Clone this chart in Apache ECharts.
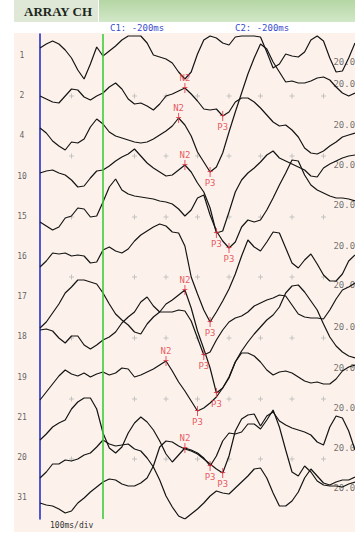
<!DOCTYPE html>
<html>
<head>
<meta charset="utf-8">
<title>ARRAY CH</title>
<script src="https://cdn.jsdelivr.net/npm/echarts@6/dist/echarts.min.js"></script>
<style>
  html, body { margin: 0; padding: 0; background: #fff; }
  #chart { width: 355px; height: 536px; }
</style>
</head>
<body>
<div id="chart"></div>
<script>
// sample times (ms), one reading every 20 ms
const times = [-200,-180,-160,-140,-120,-100,-80,-60,-40,-20,0,20,40,60,80,100,120,140,160,180,
  200,220,240,260,280,300,320,340,360,380,400,420,440,460,480,500,520,540,560,580,
  600,620,640,660,680,700,720,740,760,780,800]

const channels = ['1','2','4','10','15','16','17','18','19','21','20','31']
// vertical offset of each channel trace
const baselines = [0,-40,-80,-121,-161,-201,-241,-281,-322,-362,-402,-442]

// deflection of each channel (up = positive)
const ch1 = [7,11,14,11,5,-3,-15,-24,-9,8,-1,4,9,15,19,19,19,12,0,-2,-4,-8,-17,-24,-17,1,15,19,17,12,10,18,19,19,19,18,3,-13,-9,1,-1,-2,3,15,19,14,-3,-17,-16,-3,12]
const ch2 = [-1,-4,-7,-8,-1,6,5,-2,-5,-1,2,8,12,6,-4,-9,-8,-11,-15,-9,-1,1,4,7,1,-6,-14,-15,-14,-21,-17,-7,-3,-3,-7,-13,-20,-27,-31,-30,-35,-42,-53,-58,-59,-56,-51,-47,-42,-40,-38]
const ch4 = [7,2,-6,-11,-15,-7,-8,-4,8,16,11,3,-1,-3,-5,-7,-8,-7,-4,0,4,9,17,10,-1,-17,-27,-37,-32,-18,3,23,42,61,77,91,86,73,63,53,54,52,52,54,57,58,55,48,42,39,42]
const ch10 = [3,5,6,3,1,-4,-11,-10,-2,5,6,10,15,19,22,27,20,13,8,4,0,1,6,11,4,-7,-16,-32,-57,-55,-36,-16,-4,3,8,14,21,25,18,15,12,9,6,0,-1,8,12,15,18,20,21]
const ch15 = [-6,-10,-14,-11,-2,0,8,7,-1,0,14,29,37,26,22,20,19,18,17,15,14,12,7,0,6,18,21,1,-15,-25,-32,-26,-11,-4,-6,-4,6,18,31,43,56,55,41,31,26,23,20,18,18,17,15]
const ch16 = [-11,-5,3,2,3,0,1,0,-7,-6,6,9,5,3,7,15,21,25,29,32,30,24,23,10,-21,-38,-54,-66,-56,-45,-33,-18,0,16,9,5,14,24,23,8,-7,-12,-4,2,-8,-19,-25,-25,-18,-5,1]
const ch17 = [-32,-26,-17,-8,3,9,16,16,14,12,3,-8,-18,-24,-29,-36,-38,-28,-21,-16,-16,-16,-14,-15,-25,-42,-59,-56,-44,-34,-26,-22,-20,-16,-10,-7,-4,-2,1,0,-9,-18,-21,-22,-22,-23,-14,-3,6,9,13]
const ch18 = [6,7,5,-2,-7,0,0,-9,-13,-9,-4,-1,4,13,19,24,34,39,30,24,32,36,41,46,28,5,-13,-32,-57,-52,-41,-26,-15,-6,2,9,16,21,29,43,50,51,44,35,26,12,-1,-10,-16,-20,-22]
const ch19 = [-23,-15,-7,1,7,3,1,4,0,3,5,2,4,9,8,0,2,5,8,12,16,6,-5,-14,-24,-34,-31,-26,-20,-11,-1,15,24,24,21,15,7,2,5,6,4,0,-4,-6,-5,-7,-7,-2,6,10,12]
const ch21 = [-23,-17,-10,-6,-3,8,15,19,19,8,-16,-31,-36,-30,-16,-6,0,-5,-13,-24,-37,-45,-38,-31,-33,-36,-41,-49,-39,-24,-16,-17,-15,-7,-7,-12,-3,7,-10,-33,-55,-59,-49,-55,-64,-68,-69,-69,-70,-67,-65]
const ch20 = [-21,-15,-7,-7,-3,-4,-2,2,4,10,17,13,11,12,13,8,6,-1,-10,-23,-39,-50,-59,-62,-57,-52,-46,-39,-34,-36,-37,-31,-25,-19,-12,-11,-21,-36,-49,-49,-44,-35,-21,-12,-19,-26,-28,-25,-23,-23,-20]
const ch31 = [-6,-8,-9,-12,-16,-14,-6,-1,5,10,15,18,17,13,11,11,14,19,31,50,56,55,51,48,46,43,38,33,28,24,41,66,78,82,83,71,81,85,76,72,69,67,65,62,55,52,70,81,79,66,47]

const traces = [ch1, ch2, ch4, ch10, ch15, ch16, ch17, ch18, ch19, ch21, ch20, ch31]

// N2 / P3 peak marks
const markChannel = ['2','2','4','4','10','10','15','16','17','18','18','19','19','21','21','31']
const markName    = ['N2','P3','N2','P3','N2','P3','P3','P3','P3','N2','P3','N2','P3','N2','P3','P3']
const markTime    = [260,380,240,340,260,360,400,340,320,260,360,200,300,260,340,380]

// sensitivity labels at the right side
const sensText   = ['20.0','20.0','20.0','20.0','20.0','20.0','20.0','20.0','20.0','20.0','20.0','20.0']
const sensLevels = [-7,-29,-70,-110,-150,-191,-230,-272,-313,-353,-393,-433]

// faint grid crosses
const gridTimes  = [-100,100,200,300,400,500,600,700]
const gridLevels = [-41,-101,-162,-222,-283,-344,-404]

let chartDom = document.getElementById('chart')
let mychart = echarts.init(chartDom, null, { renderer: 'svg' })

let monoFont = 'DejaVu Sans Mono'

let lineSeries = traces.map((amp, i) => ({
  type: 'line',
  name: 'ch' + channels[i],
  data: times.map((t, k) => [t, baselines[i] + amp[k]]),
  symbol: 'none',
  smooth: false,
  silent: true,
  z: 4,
  lineStyle: { color: '#141414', width: 1.2 }
}))

// green cursor at 0 ms
lineSeries[0].markLine = {
  symbol: 'none',
  silent: true,
  label: { show: false },
  lineStyle: { color: '#3ccc3c', width: 1.6, type: 'solid' },
  data: [{ xAxis: 0 }]
}

let markData = markChannel.map((c, j) => {
  let i = channels.indexOf(c)
  let k = times.indexOf(markTime[j])
  return {
    value: [markTime[j], baselines[i] + traces[i][k]],
    label: {
      formatter: markName[j],
      position: markName[j] === 'N2' ? 'top' : 'bottom',
      distance: 1
    }
  }
})

let gridData = []
gridLevels.forEach(v => {
  gridTimes.forEach(t => gridData.push([t, v]))
})

let option = {
  animation: false,
  backgroundColor: '#ffffff',
  grid: { left: 40, right: 0, top: 34, bottom: 17 },
  xAxis: {
    type: 'value',
    min: -200,
    max: 800,
    show: false
  },
  yAxis: {
    type: 'value',
    min: -464,
    max: 21,
    position: 'left',
    axisLine: { show: true, onZero: false, lineStyle: { color: '#2630c8', width: 1.6 } },
    axisTick: { show: false },
    axisLabel: { show: false },
    splitLine: { show: false }
  },
  graphic: [
    { type: 'rect', z: -10, shape: { x: 14, y: 33, width: 341, height: 499 }, style: { fill: '#fcf2eb' } },
    { type: 'rect', z: -10, shape: { x: 14, y: 0, width: 84, height: 22 }, style: { fill: '#dfe8d6' } },
    { type: 'rect', z: -10, shape: { x: 99, y: 0, width: 256, height: 22 },
      style: { fill: new echarts.graphic.LinearGradient(0, 0, 0, 1, [
        { offset: 0, color: '#b5d6a4' }, { offset: 1, color: '#d2e8c8' }]) } },
    { type: 'text', x: 24, y: 11, style: { text: 'ARRAY CH', fill: '#1b261b', font: 'bold 13px "Liberation Serif"', verticalAlign: 'middle' } },
    { type: 'text', x: 110, y: 28, style: { text: 'C1: -200ms', fill: '#3a4ccc', font: '9px "' + monoFont + '"', verticalAlign: 'middle' } },
    { type: 'text', x: 235, y: 28, style: { text: 'C2: -200ms', fill: '#3a4ccc', font: '9px "' + monoFont + '"', verticalAlign: 'middle' } },
    { type: 'text', x: 50, y: 525, style: { text: '100ms/div', fill: '#333333', font: '8px "' + monoFont + '"', verticalAlign: 'middle' } }
  ],
  series: [
    {
      type: 'scatter',
      data: gridData,
      silent: true,
      z: 1,
      symbol: 'path://M2,0H3V5H2ZM0,2H5V3H0Z',
      symbolSize: 5,
      itemStyle: { color: '#b5b5b5' }
    },
    {
      type: 'scatter',
      data: sensLevels.map((v, i) => ({ value: [730, v], label: { formatter: sensText[i] } })),
      silent: true,
      z: 2,
      symbolSize: 1,
      itemStyle: { color: 'transparent' },
      label: { show: true, position: 'right', distance: 0, color: '#505050', fontSize: 9, fontFamily: monoFont }
    },
    {
      type: 'scatter',
      data: channels.map((c, i) => ({ value: [-200, baselines[i]], label: { formatter: c } })),
      silent: true,
      clip: false,
      z: 2,
      symbolSize: 1,
      itemStyle: { color: 'transparent' },
      label: { show: true, position: 'inside', offset: [-18, 0], color: '#3a3a3a', fontSize: 8, fontFamily: monoFont }
    },
    ...lineSeries,
    {
      type: 'scatter',
      data: markData,
      silent: true,
      z: 6,
      symbol: 'path://M2,0H3V10H2ZM0,4H5V5H0Z',
      symbolSize: [5, 10],
      itemStyle: { color: '#e2303c' },
      label: { show: true, color: '#e2303c', fontSize: 9, fontFamily: monoFont }
    }
  ]
}

mychart.setOption(option)
window.addEventListener('resize', () => {
  mychart.resize()
})
</script>
</body>
</html>
